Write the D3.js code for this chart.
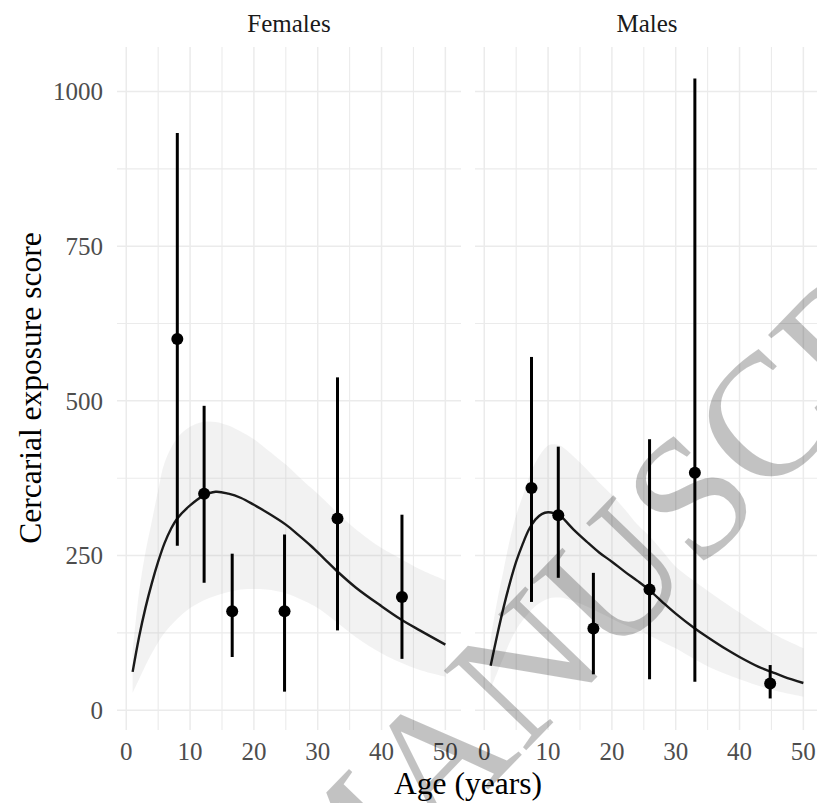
<!DOCTYPE html>
<html><head><meta charset="utf-8">
<script src="https://cdn.jsdelivr.net/npm/d3@7"></script>
<style>body{margin:0;background:#fff}svg{display:block}</style>
</head><body>
<svg id="chart" width="817" height="803"></svg>
<script>
// ---- data ----
const panels = ["Females", "Males"];
const xTicks = [0, 10, 20, 30, 40, 50];
const xMinor = [5, 15, 25, 35, 45];
const yTicks = [0, 250, 500, 750, 1000];
const yMinor = [125, 375, 625, 875];

const ageF = [8.0, 12.2, 16.6, 24.8, 33.1, 43.2];
const meanF = [600, 350, 160, 160, 310, 183];
const lowF = [266, 206, 86, 30, 129, 83];
const highF = [933, 492, 253, 284, 538, 316];

const ageM = [7.4, 11.6, 17.1, 25.9, 33.0, 44.8];
const meanM = [359, 315, 132, 195, 384, 43];
const lowM = [175, 214, 58, 50, 46, 19];
const highM = [571, 426, 222, 438, 1021, 73];

const fitAgeF = [1,2,3,4,5,6,7,8,10,12,14,16,18,20,22,25,27,29,31,33,36,40,43,46,50];
const fitF = [62,118,165,205,240,270,293,310,331,346,353,350,343,332,320,300,283,265,245,225,198,168,147,129,106];
const fitAgeM = [1,2,3,4,5,6,7,8,9,10,11,12,14,16,18,20,22,24,26,28,30,33,35,38,40,43,45,47,50];
const fitM = [72,120,165,205,240,268,292,308,317,320,318,313,292,273,255,240,224,209,193,174,156,132,118,98,86,70,62,54,44];

const ribAgeF = [1,2,3,4,5,6,8,10,12,14,16,18,20,22,25,28,30,33,36,40,43,46,50];
const ribLoF = [28,50,72,92,110,125,148,165,177,185,191,195,196,195,189,176,165,142,118,92,77,65,54];
const ribHiF = [95,190,255,305,355,400,440,458,466,466,460,450,438,422,397,368,350,320,292,262,245,228,210];
const ribAgeM = [1,2,3,4,5,6,8,10,11,12,14,16,18,20,22,24,26,28,30,33,36,40,45,50];
const ribLoM = [35,60,85,110,130,145,168,180,182,182,176,168,158,148,138,130,120,110,100,82,66,50,33,22];
const ribHiM = [115,175,225,275,315,345,400,428,430,427,410,390,368,348,325,300,280,256,232,208,186,158,125,100];

const xTitle = "Age (years)";
const yTitle = "Cercarial exposure score";
const watermark = "MANUSCRIPT";

// ---- layout ----
const svg = d3.select("#chart");
const serif = "'Liberation Serif','Times New Roman',Times,serif";
const panelX = [[117, 461], [475, 819]];
const y = d3.scaleLinear().domain([-32, 1072]).range([730, 47]);

const series = [
  {age: ageF, mean: meanF, low: lowF, high: highF, fa: fitAgeF, fv: fitF, ra: ribAgeF, rl: ribLoF, rh: ribHiF},
  {age: ageM, mean: meanM, low: lowM, high: highM, fa: fitAgeM, fv: fitM, ra: ribAgeM, rl: ribLoM, rh: ribHiM}
];

panels.forEach((name, i) => {
  const [x0, x1] = panelX[i];
  const x = d3.scaleLinear().domain([-1.45, 52.45]).range([x0, x1]);
  const g = svg.append("g");
  const top = y.range()[1], bot = y.range()[0];
  // grid
  g.selectAll(".vmin").data(xMinor).join("line")
    .attr("x1", d => x(d)).attr("x2", d => x(d)).attr("y1", top).attr("y2", bot)
    .attr("stroke", "#ebebeb").attr("stroke-width", 1.1);
  g.selectAll(".hmin").data(yMinor).join("line")
    .attr("x1", x0).attr("x2", x1).attr("y1", d => y(d)).attr("y2", d => y(d))
    .attr("stroke", "#ebebeb").attr("stroke-width", 1.1);
  g.selectAll(".vmaj").data(xTicks).join("line")
    .attr("x1", d => x(d)).attr("x2", d => x(d)).attr("y1", top).attr("y2", bot)
    .attr("stroke", "#ebebeb").attr("stroke-width", 1.5);
  g.selectAll(".hmaj").data(yTicks).join("line")
    .attr("x1", x0).attr("x2", x1).attr("y1", d => y(d)).attr("y2", d => y(d))
    .attr("stroke", "#ebebeb").attr("stroke-width", 1.5);

  const s = series[i];
  // ribbon
  const rib = s.ra.map((a, k) => ({a, lo: s.rl[k], hi: s.rh[k]}));
  g.append("path").datum(rib)
    .attr("d", d3.area().x(d => x(d.a)).y0(d => y(d.lo)).y1(d => y(d.hi)).curve(d3.curveCatmullRom.alpha(0.5)))
    .attr("fill", "#999").attr("fill-opacity", 0.13);
  // fitted curve
  const fit = s.fa.map((a, k) => ({a, v: s.fv[k]}));
  g.append("path").datum(fit)
    .attr("d", d3.line().x(d => x(d.a)).y(d => y(d.v)).curve(d3.curveCatmullRom.alpha(0.5)))
    .attr("fill", "none").attr("stroke", "#1a1a1a").attr("stroke-width", 2.4);
  // error bars and points
  const pts = s.age.map((a, k) => ({a, m: s.mean[k], lo: s.low[k], hi: s.high[k]}));
  g.selectAll(".eb").data(pts).join("line")
    .attr("x1", d => x(d.a)).attr("x2", d => x(d.a)).attr("y1", d => y(d.lo)).attr("y2", d => y(d.hi))
    .attr("stroke", "#000").attr("stroke-width", 3);
  g.selectAll(".pt").data(pts).join("circle")
    .attr("cx", d => x(d.a)).attr("cy", d => y(d.m)).attr("r", 6).attr("fill", "#000");

  // x axis labels
  g.selectAll(".xl").data(xTicks).join("text")
    .attr("x", d => x(d)).attr("y", 760).attr("text-anchor", "middle")
    .attr("font-family", serif).attr("font-size", 25).attr("fill", "#4d4d4d").text(d => d);
  // strip
  g.append("text").attr("x", (x0 + x1) / 2).attr("y", 32).attr("text-anchor", "middle")
    .attr("font-family", serif).attr("font-size", 25).attr("fill", "#1a1a1a").text(name);
});

// y axis labels
svg.selectAll(".yl").data(yTicks).join("text")
  .attr("x", 103).attr("y", d => y(d)).attr("dy", "0.35em").attr("text-anchor", "end")
  .attr("font-family", serif).attr("font-size", 25).attr("fill", "#4d4d4d").text(d => d);

// titles
svg.append("text").attr("x", 468).attr("y", 794).attr("text-anchor", "middle")
  .attr("font-family", serif).attr("font-size", 31.5).attr("fill", "#000").text(xTitle);
svg.append("text").attr("transform", "translate(41,388) rotate(-90)").attr("text-anchor", "middle")
  .attr("font-family", serif).attr("font-size", 31.5).attr("fill", "#000").text(yTitle);

// watermark
const fs = 175, ang = -46;
const wm = svg.append("text").attr("font-family", serif).attr("font-size", fs)
  .attr("fill", "#000").attr("fill-opacity", 0.24).text(watermark);
const node = wm.node();
const iC = 5;
const sp = node.getStartPositionOfChar(iC), ep = node.getEndPositionOfChar(iC);
const cx = (sp.x + ep.x) / 2, cy = -0.33 * fs;
const th = ang * Math.PI / 180;
const rx = cx * Math.cos(th) - cy * Math.sin(th), ry = cx * Math.sin(th) + cy * Math.cos(th);
const target = [765, 420];
wm.attr("transform", `translate(${target[0] - rx},${target[1] - ry}) rotate(${ang})`);
</script>
</body></html>
